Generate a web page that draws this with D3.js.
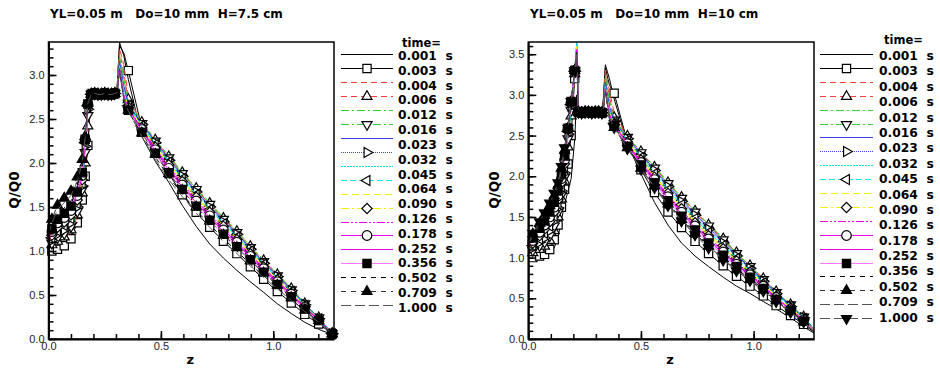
<!DOCTYPE html>
<html>
<head>
<meta charset="utf-8">
<script src="https://cdn.jsdelivr.net/npm/d3@7"></script>
<style>
  html, body { margin: 0; padding: 0; background: #fff; }
  svg text { font-family: "DejaVu Sans", sans-serif; }
</style>
</head>
<body>
<div id="chart"></div>
<script>
// legend texts
const timeLabels = ["0.001", "0.003", "0.004", "0.006", "0.012", "0.016", "0.023", "0.032", "0.045",
                    "0.064", "0.090", "0.126", "0.178", "0.252", "0.356", "0.502", "0.709", "1.000"];

// tick labels
const xTicks = [0.0, 0.5, 1.0];
const yTicksA = [0.0, 0.5, 1.0, 1.5, 2.0, 2.5, 3.0];
const yTicksB = [0.0, 0.5, 1.0, 1.5, 2.0, 2.5, 3.0, 3.5];

// line styles, one per map
const lineColors = ["#000000", "#000000", "#ff3b3b", "#ff3b3b", "#33cc33", "#33cc33", "#3c3cf0", "#3c3cf0",
                    "#00e6e6", "#00e6e6", "#f2f200", "#f2f200", "#f000f0", "#f000f0", "#f000f0", "#ff7cff",
                    "#000000", "#333333", "#555555", "#555555"];
const lineDashes = [null, null, "6,4", "6,4", "8,3,2,3", "8,3,2,3", null, "1,1",
                    "1.5,1.5", "6,3", "7,4", "8,3,2,3", "8,2,2,2,2,2", null, null, null,
                    "5,5", "5,5", "10,4", "10,4"];
const markerKinds = [null, "square", null, "triUp", null, "triDown", null, "triRight",
                     null, "triLeft", null, "diamond", null, "circle", null, "squareFilled",
                     null, "triUpFilled", null, "triDownFilled"];

// ---------- left panel: H=7.5 cm ----------
const zRiseA = [0.0, 0.015, 0.04, 0.07, 0.10, 0.128, 0.15, 0.163, 0.175];
const qRiseA = [
  [1.01, 1.02, 1.05, 1.09, 1.17, 1.35, 1.60, 1.87, 2.22],
  [1.00, 1.00, 1.02, 1.06, 1.14, 1.32, 1.58, 1.85, 2.20],
  [1.03, 1.05, 1.10, 1.14, 1.22, 1.40, 1.65, 1.95, 2.35],
  [1.04, 1.07, 1.11, 1.16, 1.24, 1.41, 1.66, 2.00, 2.42],
  [1.04, 1.08, 1.13, 1.18, 1.26, 1.43, 1.68, 2.08, 2.50],
  [1.05, 1.09, 1.15, 1.20, 1.28, 1.45, 1.70, 2.12, 2.54],
  [1.06, 1.11, 1.17, 1.22, 1.30, 1.48, 1.72, 2.16, 2.58],
  [1.07, 1.12, 1.19, 1.24, 1.32, 1.50, 1.74, 2.19, 2.61],
  [1.08, 1.14, 1.21, 1.27, 1.35, 1.52, 1.75, 2.21, 2.63],
  [1.08, 1.15, 1.23, 1.29, 1.37, 1.54, 1.77, 2.23, 2.65],
  [1.09, 1.17, 1.25, 1.31, 1.39, 1.56, 1.79, 2.24, 2.66],
  [1.10, 1.18, 1.27, 1.33, 1.41, 1.58, 1.81, 2.25, 2.66],
  [1.11, 1.20, 1.30, 1.36, 1.44, 1.61, 1.83, 2.26, 2.67],
  [1.12, 1.22, 1.32, 1.38, 1.46, 1.63, 1.86, 2.27, 2.67],
  [1.13, 1.23, 1.34, 1.41, 1.49, 1.65, 1.87, 2.27, 2.67],
  [1.14, 1.25, 1.36, 1.43, 1.51, 1.67, 1.89, 2.27, 2.67],
  [1.16, 1.29, 1.42, 1.49, 1.57, 1.74, 1.95, 2.28, 2.68],
  [1.20, 1.36, 1.52, 1.60, 1.68, 1.84, 2.04, 2.30, 2.68],
  [1.18, 1.32, 1.47, 1.55, 1.63, 1.79, 2.00, 2.29, 2.68]
];
const zFlatA = [0.19, 0.205, 0.22, 0.235, 0.25, 0.265, 0.28, 0.295];
const qFlatA = [2.78, 2.79, 2.78, 2.78, 2.79, 2.78, 2.78, 2.79];
const zPeakA = [0.305, 0.316, 0.335];
const qPeakA = [
  [2.85, 3.37, 3.22], [2.84, 3.33, 3.25], [2.83, 3.30, 3.12], [2.83, 3.27, 3.02],
  [2.82, 3.23, 2.96], [2.82, 3.20, 2.92], [2.82, 3.16, 2.88], [2.81, 3.13, 2.85],
  [2.81, 3.11, 2.82], [2.81, 3.10, 2.80], [2.81, 3.09, 2.79], [2.80, 3.08, 2.78],
  [2.80, 3.08, 2.77], [2.80, 3.07, 2.76], [2.80, 3.07, 2.75], [2.80, 3.06, 2.74],
  [2.80, 3.06, 2.73], [2.80, 3.05, 2.72], [2.80, 3.05, 2.72]
];
const zFallA = [0.355, 0.415, 0.475, 0.535, 0.595, 0.657, 0.717, 0.778, 0.838, 0.898, 0.957, 1.018, 1.08, 1.14, 1.202, 1.262];
const qFallA = [
  [2.95, 2.30, 2.02, 1.78, 1.52, 1.28, 1.08, 0.92, 0.78, 0.65, 0.53, 0.40, 0.29, 0.19, 0.11, 0.05],
  [3.05, 2.40, 2.12, 1.88, 1.64, 1.44, 1.27, 1.11, 0.97, 0.82, 0.68, 0.54, 0.41, 0.28, 0.17, 0.06],
  [2.76, 2.45, 2.25, 2.06, 1.88, 1.70, 1.53, 1.36, 1.21, 1.04, 0.88, 0.72, 0.57, 0.40, 0.24, 0.06],
  [2.72, 2.46, 2.26, 2.07, 1.89, 1.71, 1.54, 1.37, 1.22, 1.05, 0.89, 0.73, 0.57, 0.40, 0.24, 0.06],
  [2.70, 2.47, 2.27, 2.08, 1.90, 1.72, 1.55, 1.38, 1.23, 1.06, 0.90, 0.74, 0.58, 0.41, 0.24, 0.06],
  [2.68, 2.45, 2.25, 2.06, 1.88, 1.70, 1.53, 1.36, 1.21, 1.04, 0.88, 0.72, 0.56, 0.40, 0.24, 0.06],
  [2.66, 2.45, 2.24, 2.05, 1.86, 1.68, 1.51, 1.35, 1.20, 1.03, 0.87, 0.72, 0.56, 0.39, 0.24, 0.06],
  [2.66, 2.44, 2.23, 2.03, 1.85, 1.67, 1.50, 1.33, 1.19, 1.02, 0.86, 0.71, 0.55, 0.39, 0.23, 0.06],
  [2.65, 2.43, 2.22, 2.02, 1.84, 1.65, 1.49, 1.32, 1.17, 1.01, 0.85, 0.70, 0.55, 0.38, 0.23, 0.06],
  [2.65, 2.42, 2.21, 2.01, 1.82, 1.64, 1.47, 1.31, 1.16, 1.00, 0.85, 0.69, 0.54, 0.38, 0.23, 0.06],
  [2.64, 2.41, 2.19, 1.99, 1.81, 1.62, 1.46, 1.29, 1.15, 0.98, 0.83, 0.68, 0.53, 0.37, 0.23, 0.06],
  [2.63, 2.40, 2.18, 1.98, 1.79, 1.61, 1.44, 1.28, 1.13, 0.97, 0.82, 0.67, 0.52, 0.37, 0.22, 0.06],
  [2.63, 2.39, 2.17, 1.96, 1.77, 1.59, 1.42, 1.26, 1.12, 0.96, 0.81, 0.66, 0.51, 0.36, 0.22, 0.06],
  [2.62, 2.38, 2.15, 1.94, 1.75, 1.57, 1.40, 1.24, 1.10, 0.94, 0.80, 0.65, 0.51, 0.36, 0.22, 0.06],
  [2.61, 2.37, 2.14, 1.92, 1.73, 1.55, 1.38, 1.22, 1.08, 0.93, 0.78, 0.64, 0.50, 0.35, 0.22, 0.06],
  [2.60, 2.35, 2.11, 1.89, 1.70, 1.51, 1.35, 1.19, 1.05, 0.90, 0.76, 0.62, 0.48, 0.34, 0.21, 0.06],
  [2.59, 2.32, 2.07, 1.84, 1.65, 1.46, 1.30, 1.14, 1.00, 0.85, 0.72, 0.58, 0.45, 0.32, 0.20, 0.06],
  [2.60, 2.34, 2.10, 1.88, 1.69, 1.50, 1.34, 1.18, 1.04, 0.89, 0.75, 0.61, 0.47, 0.33, 0.21, 0.06],
  [2.59, 2.30, 2.04, 1.81, 1.62, 1.43, 1.27, 1.11, 0.97, 0.83, 0.70, 0.57, 0.44, 0.31, 0.19, 0.06]
];

// ---------- right panel: H=10 cm ----------
const zRiseB = [0.0, 0.02, 0.05, 0.072, 0.095, 0.115, 0.132, 0.147, 0.161, 0.176, 0.19, 0.206, 0.215];
const qRiseB = [
  [1.00, 1.00, 1.01, 1.02, 1.05, 1.12, 1.25, 1.46, 1.65, 1.82, 1.97, 2.45, 3.00],
  [1.00, 1.00, 1.02, 1.04, 1.10, 1.22, 1.40, 1.62, 1.84, 2.15, 2.50, 3.20, 3.48],
  [1.03, 1.05, 1.08, 1.12, 1.19, 1.31, 1.48, 1.70, 1.92, 2.30, 2.70, 3.25, 3.58],
  [1.04, 1.06, 1.10, 1.14, 1.21, 1.33, 1.50, 1.72, 1.94, 2.36, 2.74, 3.26, 3.60],
  [1.05, 1.08, 1.13, 1.17, 1.24, 1.36, 1.53, 1.75, 1.97, 2.42, 2.78, 3.27, 3.62],
  [1.05, 1.09, 1.15, 1.19, 1.27, 1.39, 1.56, 1.77, 1.99, 2.46, 2.81, 3.28, 3.62],
  [1.06, 1.11, 1.17, 1.22, 1.30, 1.42, 1.58, 1.80, 2.02, 2.49, 2.84, 3.28, 3.63],
  [1.07, 1.12, 1.19, 1.24, 1.33, 1.45, 1.61, 1.82, 2.04, 2.52, 2.86, 3.29, 3.64],
  [1.08, 1.14, 1.21, 1.27, 1.36, 1.48, 1.63, 1.85, 2.07, 2.54, 2.87, 3.29, 3.65],
  [1.09, 1.15, 1.23, 1.30, 1.39, 1.51, 1.66, 1.87, 2.10, 2.55, 2.88, 3.29, 3.62],
  [1.10, 1.17, 1.25, 1.32, 1.41, 1.53, 1.69, 1.90, 2.12, 2.56, 2.89, 3.30, 3.60],
  [1.11, 1.18, 1.27, 1.35, 1.44, 1.56, 1.71, 1.92, 2.15, 2.57, 2.90, 3.30, 3.58],
  [1.12, 1.20, 1.29, 1.37, 1.47, 1.59, 1.74, 1.95, 2.17, 2.58, 2.90, 3.30, 3.56],
  [1.13, 1.21, 1.31, 1.40, 1.50, 1.62, 1.76, 1.97, 2.20, 2.59, 2.91, 3.30, 3.55],
  [1.14, 1.23, 1.34, 1.42, 1.53, 1.65, 1.79, 2.00, 2.22, 2.59, 2.91, 3.30, 3.54],
  [1.14, 1.24, 1.36, 1.45, 1.56, 1.68, 1.82, 2.02, 2.25, 2.59, 2.92, 3.30, 3.52],
  [1.15, 1.26, 1.38, 1.47, 1.58, 1.70, 1.84, 2.05, 2.27, 2.59, 2.92, 3.30, 3.52],
  [1.17, 1.29, 1.42, 1.52, 1.64, 1.76, 1.89, 2.10, 2.32, 2.59, 2.92, 3.30, 3.50],
  [1.16, 1.27, 1.40, 1.50, 1.61, 1.73, 1.87, 2.07, 2.30, 2.59, 2.92, 3.30, 3.50],
  [1.18, 1.30, 1.44, 1.55, 1.67, 1.79, 1.92, 2.12, 2.35, 2.59, 2.92, 3.30, 3.50]
];
const zFlatB = [0.222, 0.237, 0.252, 0.267, 0.282, 0.297, 0.312, 0.327];
const qFlatB = [2.79, 2.78, 2.79, 2.79, 2.78, 2.79, 2.79, 2.78];
const zPeakB = [0.333, 0.342, 0.36];
const qPeakB = [
  [2.95, 3.37, 3.20], [2.92, 3.33, 3.12], [2.90, 3.30, 3.05], [2.88, 3.27, 2.98],
  [2.87, 3.23, 2.93], [2.86, 3.20, 2.90], [2.85, 3.16, 2.86], [2.84, 3.13, 2.83],
  [2.84, 3.11, 2.81], [2.83, 3.10, 2.79], [2.83, 3.09, 2.78], [2.83, 3.08, 2.77],
  [2.82, 3.08, 2.76], [2.82, 3.07, 2.75], [2.82, 3.07, 2.74], [2.82, 3.06, 2.73],
  [2.82, 3.06, 2.72], [2.82, 3.05, 2.72], [2.82, 3.05, 2.71], [2.82, 3.05, 2.71]
];
const zFallB = [0.381, 0.44, 0.50, 0.56, 0.62, 0.68, 0.74, 0.80, 0.865, 0.924, 0.984, 1.043, 1.10, 1.164, 1.222, 1.275];
const qFallB = [
  [2.95, 2.40, 2.03, 1.68, 1.40, 1.18, 1.02, 0.89, 0.76, 0.65, 0.56, 0.46, 0.37, 0.26, 0.15, 0.06],
  [3.02, 2.42, 2.08, 1.80, 1.56, 1.37, 1.20, 1.05, 0.90, 0.77, 0.65, 0.53, 0.41, 0.29, 0.18, 0.07],
  [2.78, 2.49, 2.29, 2.10, 1.91, 1.73, 1.56, 1.39, 1.22, 1.05, 0.90, 0.74, 0.58, 0.42, 0.27, 0.10],
  [2.72, 2.49, 2.30, 2.11, 1.92, 1.74, 1.57, 1.40, 1.23, 1.06, 0.90, 0.74, 0.58, 0.42, 0.27, 0.10],
  [2.70, 2.49, 2.30, 2.12, 1.93, 1.75, 1.58, 1.41, 1.24, 1.06, 0.90, 0.74, 0.58, 0.42, 0.27, 0.10],
  [2.69, 2.48, 2.29, 2.10, 1.91, 1.73, 1.56, 1.39, 1.22, 1.05, 0.89, 0.73, 0.57, 0.42, 0.27, 0.10],
  [2.67, 2.47, 2.28, 2.08, 1.89, 1.71, 1.54, 1.37, 1.20, 1.03, 0.88, 0.72, 0.57, 0.41, 0.26, 0.10],
  [2.67, 2.46, 2.26, 2.07, 1.87, 1.69, 1.52, 1.35, 1.18, 1.02, 0.87, 0.71, 0.56, 0.40, 0.26, 0.09],
  [2.66, 2.45, 2.25, 2.05, 1.85, 1.67, 1.50, 1.33, 1.17, 1.01, 0.86, 0.70, 0.55, 0.40, 0.26, 0.09],
  [2.65, 2.44, 2.23, 2.03, 1.83, 1.65, 1.48, 1.31, 1.15, 0.99, 0.84, 0.69, 0.54, 0.39, 0.25, 0.09],
  [2.65, 2.43, 2.22, 2.01, 1.81, 1.62, 1.45, 1.29, 1.13, 0.97, 0.83, 0.68, 0.53, 0.38, 0.25, 0.09],
  [2.64, 2.42, 2.20, 1.99, 1.79, 1.60, 1.43, 1.27, 1.11, 0.96, 0.82, 0.67, 0.52, 0.38, 0.24, 0.09],
  [2.64, 2.41, 2.19, 1.97, 1.77, 1.58, 1.41, 1.25, 1.09, 0.94, 0.80, 0.66, 0.51, 0.37, 0.24, 0.08],
  [2.63, 2.40, 2.17, 1.96, 1.75, 1.56, 1.39, 1.23, 1.07, 0.92, 0.79, 0.65, 0.51, 0.36, 0.23, 0.08],
  [2.63, 2.39, 2.16, 1.94, 1.73, 1.54, 1.37, 1.21, 1.05, 0.91, 0.78, 0.64, 0.50, 0.36, 0.23, 0.08],
  [2.62, 2.37, 2.14, 1.92, 1.70, 1.51, 1.34, 1.18, 1.03, 0.89, 0.76, 0.62, 0.49, 0.35, 0.22, 0.08],
  [2.61, 2.36, 2.11, 1.89, 1.67, 1.48, 1.31, 1.15, 1.00, 0.86, 0.74, 0.61, 0.47, 0.34, 0.22, 0.07],
  [2.60, 2.35, 2.10, 1.88, 1.66, 1.47, 1.30, 1.14, 0.99, 0.85, 0.73, 0.60, 0.47, 0.34, 0.21, 0.07],
  [2.60, 2.34, 2.09, 1.87, 1.65, 1.46, 1.29, 1.13, 0.98, 0.84, 0.72, 0.59, 0.46, 0.33, 0.21, 0.07],
  [2.60, 2.34, 2.09, 1.86, 1.64, 1.45, 1.28, 1.12, 0.97, 0.84, 0.72, 0.59, 0.46, 0.33, 0.21, 0.07]
];

const width = 940, height = 371;

const svg = d3.select("#chart").append("svg")
    .attr("width", width)
    .attr("height", height);

function symbolPath(kind) {
    if (kind.startsWith("square")) return d3.symbol(d3.symbolSquare, 68)();
    if (kind === "diamond") return d3.symbol(d3.symbolSquare, 52)();
    if (kind === "circle") return d3.symbol(d3.symbolCircle, 72)();
    return d3.symbol(d3.symbolTriangle, 44)();
}
function symbolRotate(kind) {
    if (kind === "diamond") return 45;
    if (kind.startsWith("triRight")) return 90;
    if (kind.startsWith("triDown")) return 180;
    if (kind.startsWith("triLeft")) return 270;
    return 0;
}

function drawMarks(g, kind, pts) {
    g.selectAll(null)
      .data(pts)
      .enter().append("path")
      .attr("d", symbolPath(kind))
      .attr("transform", d => `translate(${d[0]},${d[1]}) rotate(${symbolRotate(kind)})`)
      .attr("fill", kind.endsWith("Filled") ? "#000" : "#fff")
      .attr("stroke", "#000")
      .attr("stroke-width", 1.2);
}

function drawPanel(P) {
    const x = d3.scaleLinear().domain([0, P.zMax]).range([P.x0, P.x1]);
    const y = d3.scaleLinear().domain([0, P.qMax]).range([P.yBot, P.yTop]);

    svg.append("clipPath").attr("id", "clip" + P.id)
       .append("rect")
       .attr("x", P.x0).attr("y", P.yTop)
       .attr("width", P.x1 - P.x0).attr("height", P.yBot - P.yTop);

    // title
    svg.append("text")
       .attr("x", P.titleX).attr("y", 18)
       .style("font-size", "12px").style("font-weight", "bold")
       .style("white-space", "pre")
       .text(P.title);

    // build each map from its pieces
    const maps = d3.range(P.n).map(i => {
        const pts = [];
        P.zRise.forEach((z, k) => pts.push({ z, q: P.qRise[i][k], mark: k > 0 && k < P.riseMarks }));
        P.zFlat.forEach((z, k) => pts.push({ z, q: P.qFlat[k], mark: true }));
        P.zPeak.forEach((z, k) => pts.push({ z, q: P.qPeak[i][k], mark: false }));
        P.zFall.forEach((z, k) => pts.push({ z, q: P.qFall[i][k], mark: z <= P.zMax }));
        return pts;
    });

    const line = d3.line().x(d => x(d.z)).y(d => y(d.q));
    const g = svg.append("g");

    maps.forEach((pts, i) => {
        g.append("path")
         .datum(pts)
         .attr("d", line)
         .attr("fill", "none")
         .attr("stroke", lineColors[i])
         .attr("stroke-width", 1)
         .attr("stroke-dasharray", lineDashes[i])
         .attr("clip-path", `url(#clip${P.id})`);
        if (markerKinds[i]) {
            drawMarks(g, markerKinds[i], pts.filter(d => d.mark).map(d => [x(d.z), y(d.q)]));
        }
    });

    // frame
    svg.append("rect")
       .attr("x", P.x0).attr("y", P.yTop)
       .attr("width", P.x1 - P.x0).attr("height", P.yBot - P.yTop)
       .attr("fill", "none").attr("stroke", "#000").attr("stroke-width", 1.5);

    // minor ticks
    svg.append("g")
       .attr("transform", `translate(${P.x0},0)`)
       .call(d3.axisLeft(y).tickValues(y.ticks(35)).tickSizeInner(-5).tickSizeOuter(0).tickFormat(""))
       .call(a => a.select(".domain").remove())
       .selectAll("line").attr("stroke-width", 1.5);
    svg.append("g")
       .attr("transform", `translate(0,${P.yBot})`)
       .call(d3.axisBottom(x).tickValues(x.ticks(13)).tickSizeInner(-5).tickSizeOuter(0).tickFormat(""))
       .call(a => a.select(".domain").remove())
       .selectAll("line").attr("stroke-width", 1.5);

    // major ticks + labels
    const yAxis = svg.append("g")
       .attr("transform", `translate(${P.x0},0)`)
       .call(d3.axisLeft(y).tickValues(P.yTicks).tickFormat(d3.format(".1f"))
                .tickSizeInner(-8).tickSizeOuter(0).tickPadding(4));
    yAxis.select(".domain").attr("stroke-width", 2);
    yAxis.selectAll("line").attr("stroke-width", 1.5);
    yAxis.selectAll("text").style("font-size", "11px").style("font-family", "Liberation Sans, Arial, sans-serif").attr("fill", "#222");

    const xAxis = svg.append("g")
       .attr("transform", `translate(0,${P.yBot})`)
       .call(d3.axisBottom(x).tickValues(xTicks).tickFormat(d3.format(".1f"))
                .tickSizeInner(-8).tickSizeOuter(0).tickPadding(3));
    xAxis.select(".domain").attr("stroke-width", 2);
    xAxis.selectAll("line").attr("stroke-width", 1.5);
    xAxis.selectAll("text").style("font-size", "11px").style("font-family", "Liberation Sans, Arial, sans-serif").attr("fill", "#222");

    // axis titles
    svg.append("text")
       .attr("transform", `translate(${P.yTitleX},190) rotate(-90)`)
       .attr("text-anchor", "middle")
       .style("font-size", "13.5px").style("font-weight", "bold")
       .text("Q/Q0");
    svg.append("text")
       .attr("x", (P.x0 + P.x1) / 2 - 1).attr("y", 364)
       .attr("text-anchor", "middle")
       .style("font-size", "13px").style("font-weight", "bold")
       .text("z");

    // legend
    const lg = svg.append("g");
    lg.append("text")
      .attr("x", P.timeX).attr("y", P.timeY)
      .attr("dy", "0.35em")
      .attr("text-anchor", "middle")
      .style("font-size", "11.5px").style("font-weight", "bold")
      .text("time=");

    d3.range(P.n).forEach(i => {
        const ly = Math.round(P.legY0 + i * P.legStep) + 0.5;
        lg.append("line")
          .attr("x1", P.legX0).attr("x2", P.legX1)
          .attr("y1", ly).attr("y2", ly)
          .attr("stroke", lineColors[i])
          .attr("stroke-width", 1.2)
          .attr("shape-rendering", "crispEdges")
          .attr("stroke-dasharray", lineDashes[i]);
        if (markerKinds[i]) drawMarks(lg, markerKinds[i], [[(P.legX0 + P.legX1) / 2, ly]]);
    });

    lg.selectAll(".lab")
      .data(timeLabels)
      .enter().append("text")
      .attr("x", P.textX)
      .attr("y", (d, j) => P.textY0 + j * P.textStep)
      .attr("dy", "0.35em")
      .style("font-size", "12.3px").style("font-weight", "bold")
      .style("white-space", "pre")
      .text(d => d + "  s");
}

drawPanel({
    id: "A", title: "YL=0.05 m   Do=10 mm  H=7.5 cm", titleX: 50,
    x0: 48.5, x1: 334, zMax: 1.27, yTop: 42, yBot: 339, qMax: 3.375,
    yTicks: yTicksA, yTitleX: 19, n: 19, riseMarks: 9,
    zRise: zRiseA, qRise: qRiseA, zFlat: zFlatA, qFlat: qFlatA,
    zPeak: zPeakA, qPeak: qPeakA, zFall: zFallA, qFall: qFallA,
    legX0: 341, legX1: 393, legY0: 54, legStep: 13.96,
    textX: 398, textY0: 55.7, textStep: 14.82, timeX: 421.5, timeY: 43
});

drawPanel({
    id: "B", title: "YL=0.05 m   Do=10 mm  H=10 cm", titleX: 530,
    x0: 528.3, x1: 814, zMax: 1.268, yTop: 42, yBot: 339, qMax: 3.65,
    yTicks: yTicksB, yTitleX: 499, n: 20, riseMarks: 12,
    zRise: zRiseB, qRise: qRiseB, zFlat: zFlatB, qFlat: qFlatB,
    zPeak: zPeakB, qPeak: qPeakB, zFall: zFallB, qFall: qFallB,
    legX0: 820, legX1: 873, legY0: 54, legStep: 13.9,
    textX: 879, textY0: 55.7, textStep: 15.39, timeX: 903.5, timeY: 40
});
</script>
</body>
</html>
